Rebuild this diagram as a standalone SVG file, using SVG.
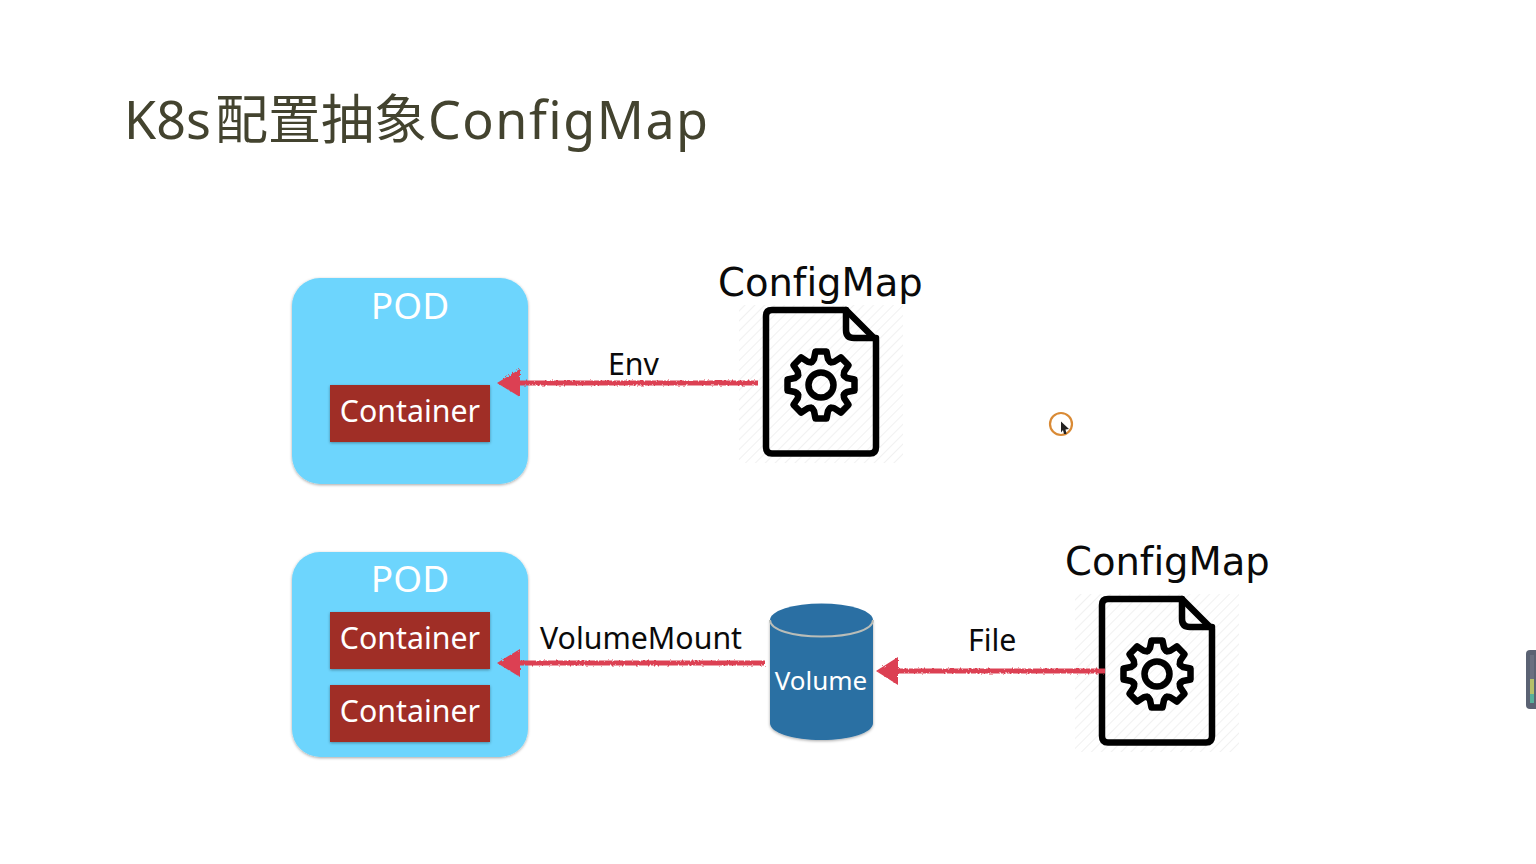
<svg xmlns="http://www.w3.org/2000/svg" width="1536" height="864" viewBox="0 0 1536 864">
<style>
text{font-family:"Noto Sans","Noto Sans CJK SC",sans-serif;font-variant-ligatures:none}
.title{font-size:52px;fill:#43432f}
.cap{font-family:"DejaVu Sans",sans-serif;font-size:38.500px;fill:#0a0a0a}
.lbl{font-size:30.300px;fill:#0a0a0a}
.pod{fill:#6dd5fd;filter:url(#soft)}
.podt{font-size:37px;fill:#fff;text-anchor:middle}
.box{fill:#a02f27;filter:url(#soft)}
.boxt{font-size:30.300px;fill:#fff;text-anchor:middle}
.arrow{stroke:#dc4052;stroke-width:5;fill:none}
.tip{fill:#dc4052}
.ico{fill:none;stroke:#000;stroke-width:6.500;stroke-linejoin:round;stroke-linecap:round}
</style>
<defs>
<filter id="soft" x="-5%" y="-5%" width="110%" height="115%"><feDropShadow dx="0" dy="1" stdDeviation="1.5" flood-color="#000" flood-opacity=".35"/></filter>
<filter id="rough" filterUnits="userSpaceOnUse" x="480" y="350" width="640" height="340"><feTurbulence type="fractalNoise" baseFrequency=".5" numOctaves="2" seed="4"/><feDisplacementMap in="SourceGraphic" scale="3"/></filter>
<pattern id="hatch" width="7" height="7" patternUnits="userSpaceOnUse" patternTransform="rotate(45)"><rect width="7" height="7" fill="#fff"/><rect width="1" height="7" fill="#f1f1f1"/></pattern>
<path id="tooth" d="M-9.500-23Q-8-24-7-26L-5.500-33.500H5.500L7-26Q8-24 9.500-23"/>
<g id="doc">
<rect x="739" y="305" width="164" height="158" fill="url(#hatch)"/>
<g class="ico">
<path d="M772 310H846L876 340V447Q876 453.500 870 453.500H772Q766 453.500 766 447V316Q766 310 772 310Z"/>
<path d="M846 310V330Q846 338 854 338H876"/>
<g transform="translate(821 385)">
<circle r="12.500"/>
<use href="#tooth"/><use href="#tooth" transform="rotate(45)"/><use href="#tooth" transform="rotate(90)"/><use href="#tooth" transform="rotate(135)"/><use href="#tooth" transform="rotate(180)"/><use href="#tooth" transform="rotate(225)"/><use href="#tooth" transform="rotate(270)"/><use href="#tooth" transform="rotate(315)"/>
</g>
</g>
</g>
</defs>
<rect width="1536" height="864" fill="#fff"/>
<text class="title" y="138.500"><tspan x="124">K8s</tspan><tspan x="215" font-size="53">配置抽象</tspan><tspan x="428" letter-spacing="1.500">ConfigMap</tspan></text>

<g id="pod-top">
<rect class="pod" x="292" y="278" width="236" height="206" rx="28"/>
<text class="podt" x="410" y="319">POD</text>
</g>
<g id="container-top">
<rect class="box" x="330" y="385" width="160" height="57"/>
<text class="boxt" x="410" y="421.500">Container</text>
</g>
<g id="configmap-top">
<text class="cap" x="718" y="295.500">ConfigMap</text>
<use href="#doc"/>
</g>

<g id="pod-bottom">
<rect class="pod" x="292" y="552" width="236" height="205" rx="28"/>
<text class="podt" x="410" y="592">POD</text>
</g>
<g id="container-bottom-1">
<rect class="box" x="330" y="612" width="160" height="57"/>
<text class="boxt" x="410" y="648.500">Container</text>
</g>
<g id="container-bottom-2">
<rect class="box" x="330" y="685" width="160" height="57"/>
<text class="boxt" x="410" y="721.500">Container</text>
</g>
<g id="volume">
<path d="M770 620V723C770 733 793 740 821.500 740S873 733 873 723V620Z" fill="#2a6fa3" filter="url(#soft)"/>
<ellipse cx="821.500" cy="620" rx="51.500" ry="16.500" fill="#2a6fa3"/>
<path d="M770 620C770 630 793 636.500 821.500 636.500S873 630 873 620" fill="none" stroke="#b9bdb8" stroke-width="2"/>
<text x="821" y="689.500" font-size="26" fill="#fff" text-anchor="middle">Volume</text>
</g>
<g id="configmap-bottom">
<text class="cap" x="1065" y="574.500">ConfigMap</text>
<use href="#doc" transform="translate(336 289)"/>
</g>

<g id="connectors" filter="url(#rough)">
<path class="arrow" d="M518 383H758"/><path class="tip" d="M497 383L520 369V397Z"/>
<path class="arrow" d="M518 663H765"/><path class="tip" d="M497 663L520 649V677Z"/>
<path class="arrow" d="M897 671H1105"/><path class="tip" d="M876 671L898 657V685Z"/>
</g>
<g id="connector-labels">
<text class="lbl" x="608" y="375">Env</text>
<text class="lbl" x="540" y="649">VolumeMount</text>
<text class="lbl" x="968" y="651">File</text>
</g>

<g id="pointer">
<circle cx="1061" cy="424" r="11" fill="none" stroke="#d98a35" stroke-width="2.200"/>
<path d="M1061 421.500L1069 429L1065.500 429.500L1066.500 434L1064 434L1063 430L1061 432.500Z" fill="#222"/>
</g>
<g id="level-meter">
<rect x="1526" y="650" width="14" height="59" rx="4" fill="#5b6273"/>
<rect x="1530" y="655" width="4" height="24" fill="#6a7080"/>
<rect x="1530" y="679" width="4" height="15" fill="#b5c06a"/>
<rect x="1530" y="694" width="4" height="9" fill="#58b09a"/>
</g>
</svg>
